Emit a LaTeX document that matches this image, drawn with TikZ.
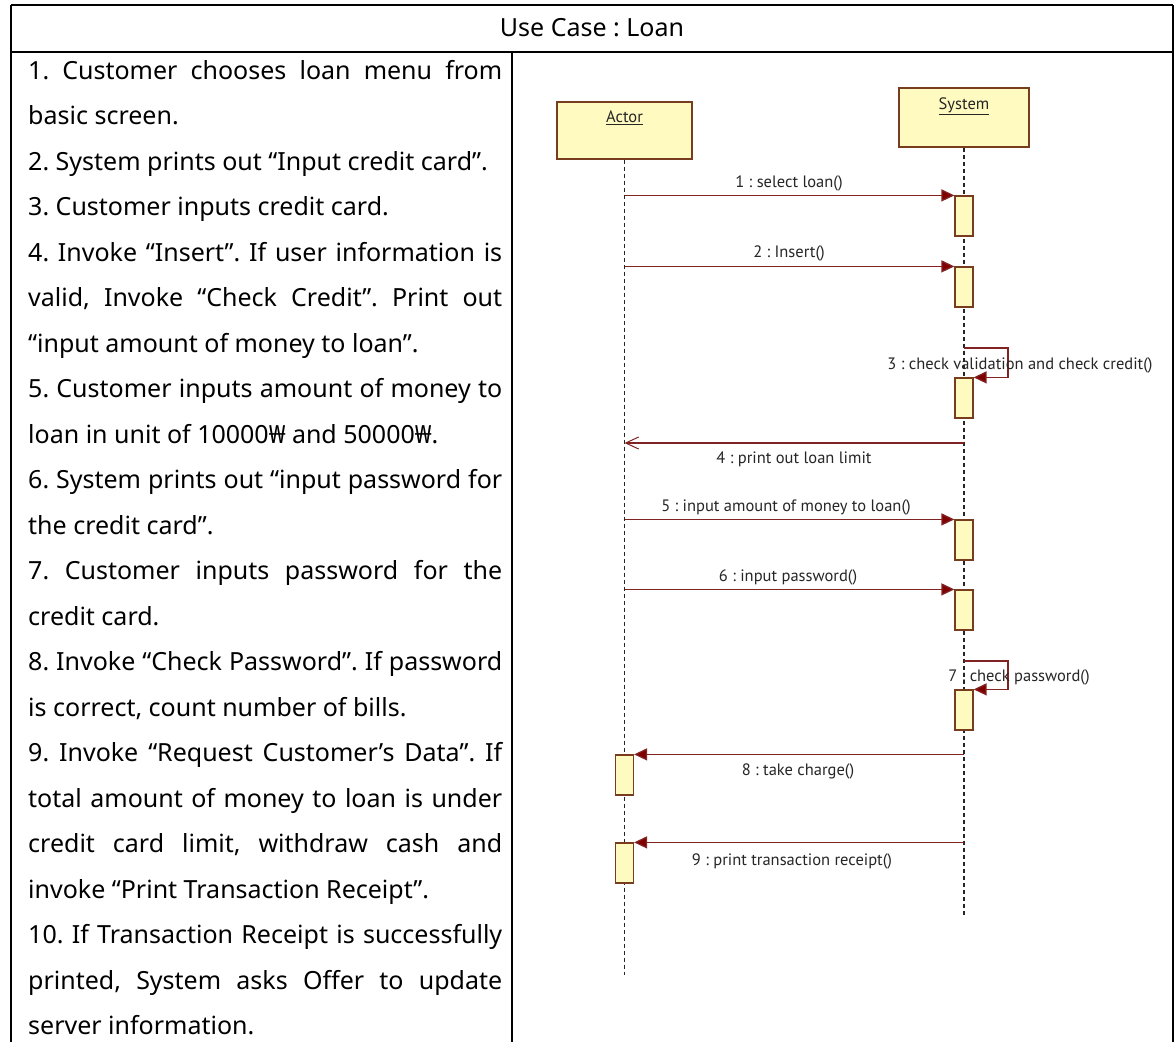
\documentclass[tikz,border=0pt]{standalone}
\usepackage{fontspec}
\setmainfont{Noto Sans}
\newfontfamily\umlfont{PT Sans}
\usetikzlibrary{arrows.meta}
\definecolor{umlfill}{RGB}{255,250,192}
\definecolor{umlborder}{RGB}{120,60,30}
\definecolor{msgline}{RGB}{130,35,35}
\definecolor{msghead}{RGB}{128,0,0}
\newcommand{\JustL}[1]{\makebox[474pt][s]{#1}\par}
\newcommand{\PlainL}[1]{\mbox{#1}\par}
\frenchspacing
\begin{document}
\begin{tikzpicture}[x=1pt,y=-1pt,
  tbl/.style={line width=1.6pt,black},
  lifebox/.style={draw=umlborder,fill=umlfill,line width=1.3pt,inner sep=0pt},
  umltext/.style={font=\umlfont\fontsize{16.5}{18}\selectfont,text=black!85,inner sep=0pt},
  bar/.style={draw=umlborder,fill=umlfill,line width=1.2pt,minimum width=18pt,minimum height=40pt,inner sep=0pt},
  lifeline/.style={black!85,line width=1.8pt,dash pattern=on 4pt off 3pt},
  msg/.style={msgline,line width=1.3pt,-{Triangle[length=13pt,width=12pt,fill=msghead]}},
  retmsg/.style={msgline,line width=1.3pt,-{Straight Barb[length=13pt,width=12pt,line width=1pt]}}]
\useasboundingbox (0,0) rectangle (1175,1042);
\fill[white] (0,0) rectangle (1175,1042);
% table
\draw[tbl] (11,5) -- (1173,5);
\draw[tbl] (11,52) -- (1173,52);
\draw[tbl] (11,5) -- (11,1042);
\draw[tbl] (512,52) -- (512,1042);
\draw[tbl] (1173,5) -- (1173,1042);
\node[font=\fontsize{25}{30}\selectfont,inner sep=0pt] (title) at (592,28) {Use Case : Loan};
% steps text
\node[anchor=base west,inner sep=0pt] (steps) at (28,79) {\parbox[t]{474pt}{\fontsize{25}{45.5}\selectfont\frenchspacing\setlength{\parskip}{0pt}%
\JustL{1. Customer chooses loan menu from}
\PlainL{basic screen.}
\PlainL{2. System prints out “Input credit card”.}
\PlainL{3. Customer inputs credit card.}
\JustL{4. Invoke “Insert”. If user information is}
\JustL{valid, Invoke “Check Credit”. Print out}
\PlainL{“input amount of money to loan”.}
\JustL{5. Customer inputs amount of money to}
\PlainL{loan in unit of 10000₩ and 50000₩.}
\JustL{6. System prints out “input password for}
\PlainL{the credit card”.}
\JustL{7. Customer inputs password for the}
\PlainL{credit card.}
\JustL{8. Invoke “Check Password”. If password}
\PlainL{is correct, count number of bills.}
\JustL{9. Invoke “Request Customer’s Data”. If}
\JustL{total amount of money to loan is under}
\JustL{credit card limit, withdraw cash and}
\PlainL{invoke “Print Transaction Receipt”.}
\JustL{10. If Transaction Receipt is successfully}
\JustL{printed, System asks Offer to update}
\PlainL{server information.}}};
% lifeline heads
\node[lifebox,minimum width=135pt,minimum height=57pt] (actor) at (624.5,130.5) {};
\node[umltext] (actorname) at (624.5,118) {\underline{Actor}};
\node[lifebox,minimum width=130pt,minimum height=59pt] (system) at (964,117.5) {};
\node[umltext] (systemname) at (964,106) {\underline{System}};
\coordinate (actorend) at (624.5,975);
\coordinate (systemend) at (964,917);
\draw[lifeline] (actor.south) -- (actorend);
\draw[lifeline] (system.south) -- (systemend);
% activation bars
\node[bar] (s1) at (964,216) {};
\node[bar] (s2) at (964,287) {};
\node[bar] (s3) at (964,398) {};
\node[bar] (s5) at (964,540) {};
\node[bar] (s6) at (964,610) {};
\node[bar] (s7) at (964,710) {};
\node[bar] (a8) at (624.5,775) {};
\node[bar] (a9) at (624.5,863) {};
% messages
\draw[msg] (actor.south |- s1.north) -- (s1.north west);
\node[umltext] (l1) at (789,183) {1 : select loan()};
\draw[msg] (actor.south |- s2.north) -- (s2.north west);
\node[umltext] (l2) at (789,253) {2 : Insert()};
\coordinate (loop3) at (964,348);
\draw[msg] (loop3) -- (1008,348) |- (s3.north east);
\node[umltext] (l3) at (1020,365) {3 : check validation and check credit()};
\coordinate (r4s) at (964,443);
\draw[retmsg] (r4s) -- (actor.south |- r4s);
\node[umltext] (l4) at (794,459) {4 : print out loan limit};
\draw[msg] (actor.south |- s5.north) -- (s5.north west);
\node[umltext] (l5) at (786,507) {5 : input amount of money to loan()};
\draw[msg] (actor.south |- s6.north) -- (s6.north west);
\node[umltext] (l6) at (788,577) {6 : input password()};
\coordinate (loop7) at (964,661);
\draw[msg] (loop7) -- (1008,661) |- (s7.north east);
\node[umltext] (l7) at (1019,677) {7 : check password()};
\draw[msg] (system.south |- a8.north) -- (a8.north east);
\node[umltext] (l8) at (798,771) {8 : take charge()};
\draw[msg] (system.south |- a9.north) -- (a9.north east);
\node[umltext] (l9) at (792,861) {9 : print transaction receipt()};
\end{tikzpicture}
\end{document}
